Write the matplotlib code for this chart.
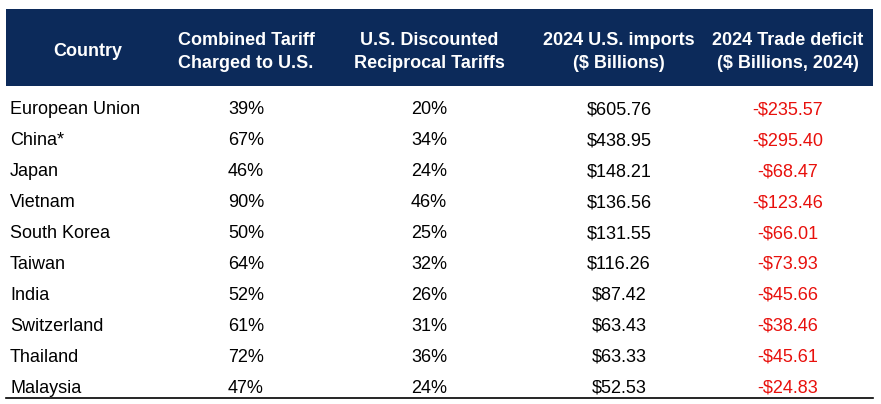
import matplotlib.pyplot as plt
from matplotlib.patches import Rectangle

plt.rcParams['font.family'] = ['Liberation Sans', 'DejaVu Sans']

# Table data
headers = [["Country"], ["Combined Tariff", "Charged to U.S."], ["U.S. Discounted", "Reciprocal Tariffs"],
           ["2024 U.S. imports", "($ Billions)"], ["2024 Trade deficit", "($ Billions, 2024)"]]
countries = ["European Union", "China*", "Japan", "Vietnam", "South Korea",
             "Taiwan", "India", "Switzerland", "Thailand", "Malaysia"]
combined_tariff = [39, 67, 46, 90, 50, 64, 52, 61, 72, 47]
reciprocal_tariff = [20, 34, 24, 46, 25, 32, 26, 31, 36, 24]
imports_2024 = [605.76, 438.95, 148.21, 136.56, 131.55, 116.26, 87.42, 63.43, 63.33, 52.53]
deficit_2024 = [-235.57, -295.40, -68.47, -123.46, -66.01, -73.93, -45.66, -38.46, -45.61, -24.83]

fig = plt.figure(figsize=(8.81, 4.04), dpi=100)
ax = fig.add_axes([0, 0, 1, 1])
ax.set_xlim(0, 881)
ax.set_ylim(404, 0)
ax.axis("off")

navy = "#0c2a5a"
red = "#e8100c"
col_x = [88, 246, 429, 619, 788]

# header band
ax.add_patch(Rectangle((6, 9), 867, 77, color=navy, lw=0))
for x, lines in zip(col_x, headers):
    if len(lines) == 1:
        ax.text(x, 56, lines[0], color="white", fontsize=13, fontweight="bold",
                ha="center", va="baseline")
    else:
        for j, line in enumerate(lines):
            ax.text(x, 45 + j * 23, line, color="white", fontsize=13, fontweight="bold",
                    ha="center", va="baseline")

row_y0 = 114.5
row_h = 30.9
for i, c in enumerate(countries):
    y = row_y0 + i * row_h
    ax.text(10, y, c, fontsize=13, ha="left", va="baseline")
    ax.text(col_x[1], y, f"{combined_tariff[i]}%", fontsize=13, ha="center", va="baseline")
    ax.text(col_x[2], y, f"{reciprocal_tariff[i]}%", fontsize=13, ha="center", va="baseline")
    ax.text(col_x[3], y, f"${imports_2024[i]:.2f}", fontsize=13, ha="center", va="baseline")
    ax.text(col_x[4], y, f"-${abs(deficit_2024[i]):.2f}", fontsize=13, ha="center",
            va="baseline", color=red)

ax.plot([6, 873], [397.5, 397.5], color="black", lw=1.2)

fig.savefig("out.png", dpi=100)
